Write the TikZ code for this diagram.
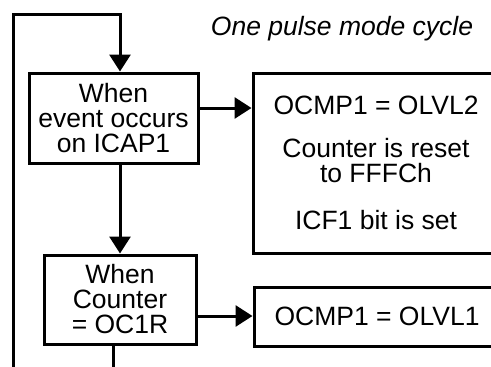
\documentclass[tikz,border=0pt]{standalone}
\usepackage{fontspec}
\setmainfont{Liberation Sans}
\usetikzlibrary{arrows.meta}
\begin{document}
\begin{tikzpicture}[x=1pt,y=-1pt,line width=3pt,line join=miter,
  box/.style={draw,line width=3pt,inner sep=0pt,align=center,font=\fontsize{26.5}{25}\selectfont},
  arr/.style={-{Triangle[length=17pt,width=21pt]}}]
\useasboundingbox (0,0) rectangle (491,367);
\clip (0,0) rectangle (491,367);
\node[anchor=base,font=\itshape\fontsize{26.5}{25}\selectfont] (title) at (342,35) {One pulse mode cycle};
\node[box,minimum width=169pt,minimum height=90pt] (ev) at (113.5,118) {When\\event occurs\\on ICAP1};
\node[box,minimum width=152pt,minimum height=89pt] (cnt) at (120,299.5) {When\\Counter\\= OC1R};
\node[box,minimum width=246pt,minimum height=180pt] (r1) at (376,163) {OCMP1 = OLVL2\\[18pt]Counter is reset\\to FFFCh\\[22pt]ICF1 bit is set};
\node[box,minimum width=246pt,minimum height=59pt] (r2) at (377,316.5) {OCMP1 = OLVL1};
\coordinate (a1) at (0,108);
\coordinate (a2) at (0,316);
\coordinate (b1) at (113,395);
\coordinate (bl) at (13,395);
\coordinate (tl) at (13,14);
\coordinate (tr) at (120,14);
\draw[arr] (ev.east |- a1) -- (r1.west |- a1);
\draw[arr] (cnt.east |- a2) -- (r2.west |- a2);
\draw[arr] (ev.south -| cnt.north) -- (cnt.north);
\draw[arr] (cnt.south -| b1) -- (b1) -- (bl) -- (tl) -- (tr) -- (tr |- ev.north);
\end{tikzpicture}
\end{document}
